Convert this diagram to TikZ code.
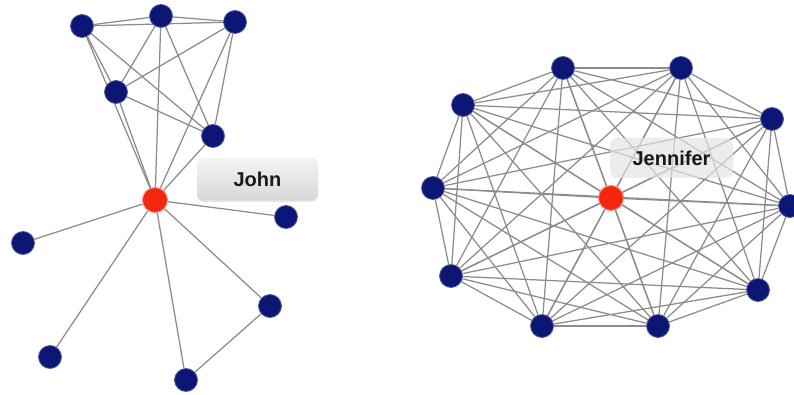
\documentclass[tikz,border=0pt]{standalone}
\usepackage{fontspec}
\setmainfont{Liberation Sans}
\usetikzlibrary{shadows,backgrounds}
\definecolor{navy}{RGB}{12,22,116}
\definecolor{hub}{RGB}{244,38,16}
\definecolor{edgec}{RGB}{140,140,140}
\definecolor{tagtop}{RGB}{244,244,244}
\definecolor{tagbot}{RGB}{216,216,216}
\begin{document}
\begin{tikzpicture}[x=1pt,y=-1pt,
  person/.style={circle,fill=navy,draw=navy!70!white,line width=0.8pt,minimum size=23pt,inner sep=0pt},
  hubnode/.style={circle,fill=hub,draw=hub!55!white,line width=1pt,minimum size=25pt,inner sep=0pt},
  link/.style={draw=edgec,line width=1.25pt},
  tag/.style={rounded corners=7pt,inner sep=0pt,text=black!90,
    font=\bfseries\fontsize{20}{24}\selectfont}]
\clip (0,0) rectangle (794,395);
% ---------- John's network ----------
\node[person] (a1) at (82,26) {};
\node[person] (a2) at (161,16) {};
\node[person] (a3) at (235,22) {};
\node[person] (a4) at (116,92) {};
\node[person] (a5) at (213,136) {};
\node[hubnode] (john) at (155,200) {};
\node[person] (b1) at (286,217) {};
\node[person] (b2) at (23,243) {};
\node[person] (b3) at (270,306) {};
\node[person] (b4) at (50,357) {};
\node[person] (b5) at (186,380) {};
% ---------- Jennifer's network ----------
\node[hubnode] (r0) at (611,198) {};
\node[person] (r1) at (563,68) {};
\node[person] (r2) at (681,68) {};
\node[person] (r3) at (463,105) {};
\node[person] (r4) at (772,119) {};
\node[person] (r5) at (433,188) {};
\node[person] (r6) at (790,206) {};
\node[person] (r7) at (451,276) {};
\node[person] (r8) at (758,290) {};
\node[person] (r9) at (542,326) {};
\node[person] (r10) at (658,326) {};
\begin{pgfonlayer}{background}
\fill[white] (0,0) rectangle (794,395);
\foreach \u/\v in {a1/a2,a1/a3,a2/a3,a1/a4,a1/a5,a1/john,a2/a4,a2/a5,a2/john,
  a3/a4,a3/a5,a3/john,a4/a5,a4/john,a5/john,
  john/b1,john/b2,john/b3,john/b4,john/b5,b3/b5}
  \draw[link] (\u) -- (\v);
\foreach \i in {0,...,9}{
  \pgfmathtruncatemacro\s{\i+1}
  \foreach \j in {\s,...,10}
    \draw[link] (r\i) -- (r\j);
}
\end{pgfonlayer}
\node[tag,minimum width=121pt,minimum height=42pt,
  top color=tagtop,bottom color=tagbot,
  drop shadow={opacity=0.22,shadow xshift=0pt,shadow yshift=-2pt}]
  (johntag) at (257.5,179) {John};
\node[tag,minimum width=123pt,minimum height=40pt,
  fill=tagbot!70!white,fill opacity=0.7,text opacity=1]
  (jentag) at (671.5,158) {Jennifer};
\end{tikzpicture}
\end{document}
